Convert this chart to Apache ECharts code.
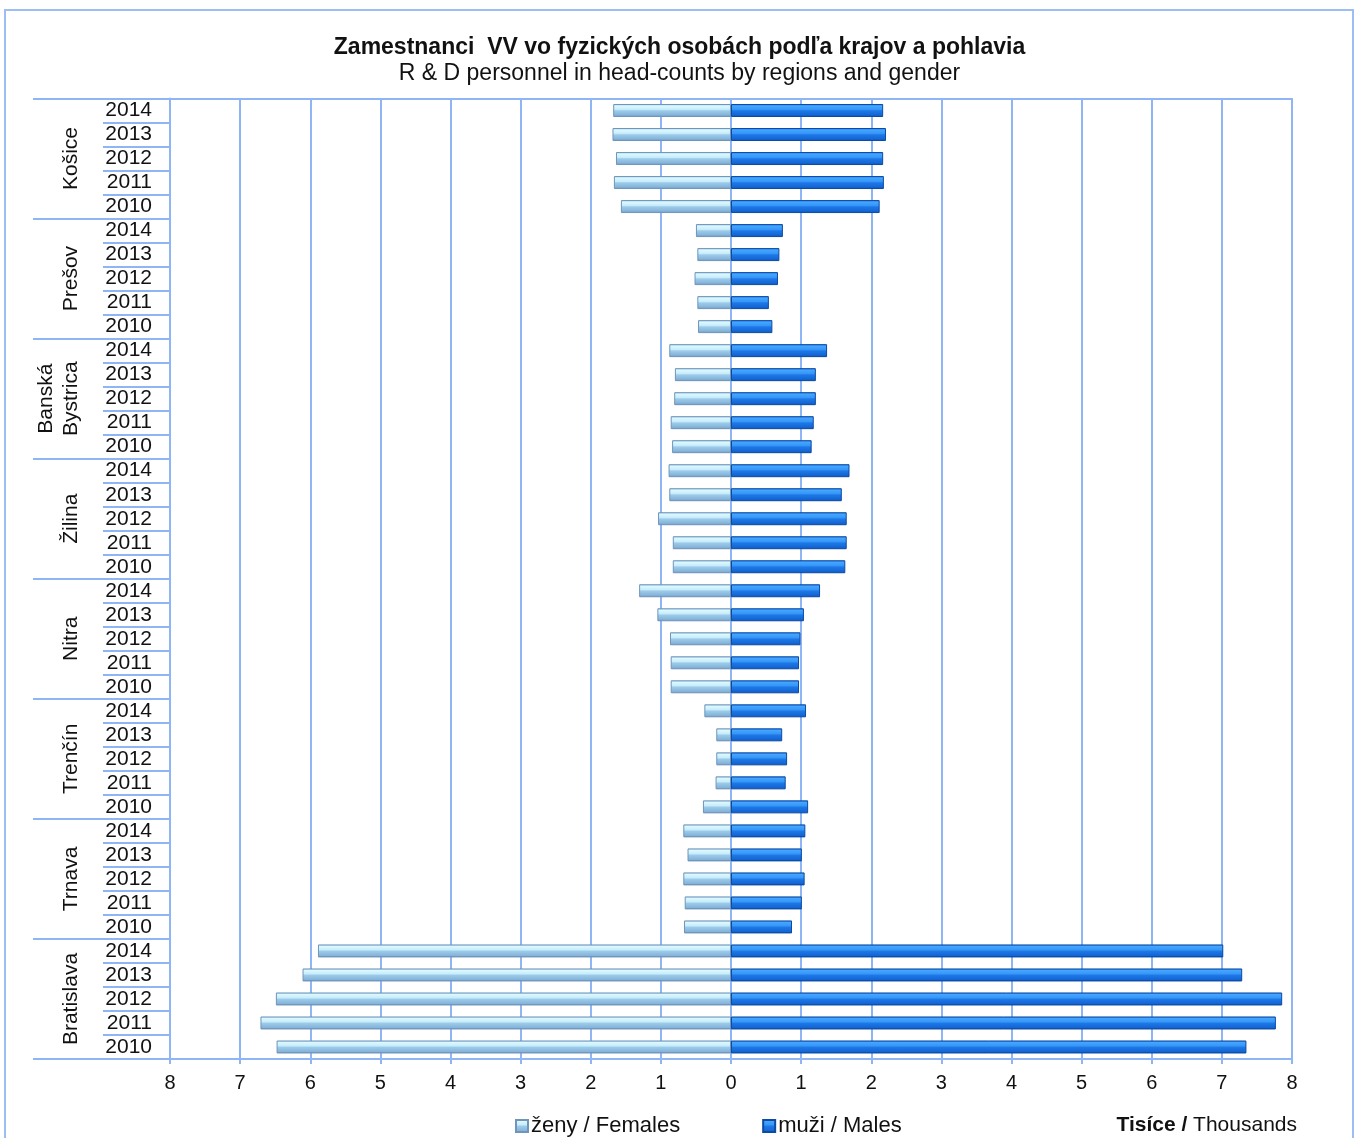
<!DOCTYPE html>
<html>
<head>
<meta charset="utf-8">
<script src="https://cdn.jsdelivr.net/npm/echarts@6/dist/echarts.min.js"></script>
<style>
html,body{margin:0;padding:0;background:#fff;}
#chart{width:1359px;height:1138px;}
</style>
</head>
<body>
<div id="chart"></div>
<script>
// ---- DATA (top-to-bottom order as in the picture) ----
const regions = ['Košice', 'Prešov', 'Banská\nBystrica', 'Žilina', 'Nitra', 'Trenčín', 'Trnava', 'Bratislava'];
const years = ['2014', '2013', '2012', '2011', '2010'];
// thousands of persons, per region, years 2014..2010
const femalesKosice     = [1.68, 1.69, 1.64, 1.67, 1.57];
const femalesPresov     = [0.50, 0.48, 0.52, 0.48, 0.47];
const femalesBanska     = [0.88, 0.80, 0.81, 0.86, 0.84];
const femalesZilina     = [0.89, 0.88, 1.04, 0.83, 0.83];
const femalesNitra      = [1.31, 1.05, 0.87, 0.86, 0.86];
const femalesTrencin    = [0.38, 0.21, 0.21, 0.22, 0.40];
const femalesTrnava     = [0.68, 0.62, 0.68, 0.66, 0.67];
const femalesBratislava = [5.89, 6.11, 6.49, 6.71, 6.48];

const malesKosice     = [2.17, 2.21, 2.17, 2.18, 2.12];
const malesPresov     = [0.74, 0.69, 0.67, 0.54, 0.59];
const malesBanska     = [1.37, 1.21, 1.21, 1.18, 1.15];
const malesZilina     = [1.69, 1.58, 1.65, 1.65, 1.63];
const malesNitra      = [1.27, 1.04, 0.99, 0.97, 0.97];
const malesTrencin    = [1.07, 0.73, 0.80, 0.78, 1.10];
const malesTrnava     = [1.06, 1.01, 1.05, 1.01, 0.87];
const malesBratislava = [7.02, 7.29, 7.86, 7.77, 7.35];

const xTickLabels = ['8','7','6','5','4','3','2','1','0','1','2','3','4','5','6','7','8'];

// ---- build ----
const females = [].concat(femalesKosice, femalesPresov, femalesBanska, femalesZilina,
                          femalesNitra, femalesTrencin, femalesTrnava, femalesBratislava);
const males = [].concat(malesKosice, malesPresov, malesBanska, malesZilina,
                        malesNitra, malesTrencin, malesTrnava, malesBratislava);
const rowKeys = [];
regions.forEach(r => years.forEach(y => rowKeys.push(r + '|' + y)));

const FONT = "'Liberation Sans', Arial, sans-serif";
const LINE = '#8fb5f5';

const femaleFill = new echarts.graphic.LinearGradient(0, 0, 0, 1, [
  {offset: 0, color: '#9cc6e6'},
  {offset: 0.15, color: '#dcf8ff'},
  {offset: 0.42, color: '#c6ecfb'},
  {offset: 0.52, color: '#9ccbea'},
  {offset: 0.85, color: '#86b4da'},
  {offset: 1, color: '#5f88ad'}
]);
const maleFill = new echarts.graphic.LinearGradient(0, 0, 0, 1, [
  {offset: 0, color: '#1a6fdc'},
  {offset: 0.15, color: '#45a6ff'},
  {offset: 0.42, color: '#3596f7'},
  {offset: 0.52, color: '#1e78e8'},
  {offset: 0.85, color: '#1466d4'},
  {offset: 1, color: '#0b47a2'}
]);

const chart = echarts.init(document.getElementById('chart'), null, {renderer: 'canvas'});
chart.setOption({
  animation: false,
  backgroundColor: '#ffffff',
  textStyle: {fontFamily: FONT},
  graphic: [{
    type: 'rect', silent: true,
    shape: {x: 5, y: 10, width: 1348, height: 1160},
    style: {fill: 'none', stroke: '#9cbef5', lineWidth: 2}
  }],
  title: [{
    text: 'Zamestnanci  VV vo fyzických osobách podľa krajov a pohlavia',
    subtext: 'R & D personnel in head-counts by regions and gender',
    left: 'center', top: 31, itemGap: 3,
    textStyle: {fontFamily: FONT, fontSize: 23, fontWeight: 'bold', color: '#111'},
    subtextStyle: {fontFamily: FONT, fontSize: 23, color: '#111'}
  }, {
    text: '{b|Tisíce /} Thousands',
    right: 57, top: 1110,
    textStyle: {fontFamily: FONT, fontSize: 21, fontWeight: 'normal', color: '#111',
      rich: {b: {fontFamily: FONT, fontSize: 21, fontWeight: 'bold', color: '#111'}}}
  }],
  legend: {
    data: ['ženy / Females', 'muži / Males'],
    left: 510, top: 1110,
    icon: 'rect', itemWidth: 12, itemHeight: 12, itemGap: 82,
    textStyle: {fontFamily: FONT, fontSize: 22, color: '#111', padding: [0, 0, 0, -2]}
  },
  grid: {left: 170, right: 67, top: 98.5, bottom: 79, containLabel: false},
  xAxis: [{
    type: 'value', min: -8, max: 8, interval: 1,
    axisLine: {show: true, onZero: false, lineStyle: {color: LINE, width: 2}},
    axisTick: {show: true, length: 5, lineStyle: {color: LINE, width: 2}},
    axisLabel: {fontFamily: FONT, fontSize: 20, color: '#111', margin: 14,
      formatter: v => xTickLabels[Math.round(v) + 8]},
    splitLine: {show: true, lineStyle: {color: LINE, width: 2}}
  }, {
    type: 'value', min: -8, max: 8, position: 'top',
    axisLine: {show: true, onZero: false, lineStyle: {color: LINE, width: 2}},
    axisTick: {show: false}, axisLabel: {show: false}, splitLine: {show: false}
  }],
  yAxis: [{
    type: 'category', inverse: true, data: rowKeys, position: 'left',
    axisLine: {show: true, onZero: false, lineStyle: {color: LINE, width: 2}},
    axisTick: {show: true, interval: 0, length: 67, lineStyle: {color: LINE, width: 2}},
    axisLabel: {interval: 0, fontFamily: FONT, fontSize: 21, color: '#111', margin: 18,
      formatter: v => v.split('|')[1]},
    splitLine: {show: false}
  }, {
    type: 'category', inverse: true, data: regions, position: 'left', offset: 137,
    axisLine: {show: false, onZero: false},
    axisTick: {show: true, interval: 0, inside: true, length: 137, lineStyle: {color: LINE, width: 2}},
    axisLabel: {interval: 0, inside: true, rotate: 90, margin: 51, align: 'center', verticalAlign: 'bottom',
      fontFamily: FONT, fontSize: 21, color: '#111', lineHeight: 25},
    splitLine: {show: false}
  }],
  series: [{
    name: 'ženy / Females', type: 'bar', xAxisIndex: 0, yAxisIndex: 0,
    barWidth: 13, barGap: '-100%',
    itemStyle: {color: femaleFill, borderColor: '#6f95ba', borderWidth: 1},
    data: females.map(v => -v)
  }, {
    name: 'muži / Males', type: 'bar', xAxisIndex: 0, yAxisIndex: 0,
    barWidth: 13, barGap: '-100%',
    itemStyle: {color: maleFill, borderColor: '#0c4aa3', borderWidth: 1},
    data: males
  }]
});
</script>
</body>
</html>
